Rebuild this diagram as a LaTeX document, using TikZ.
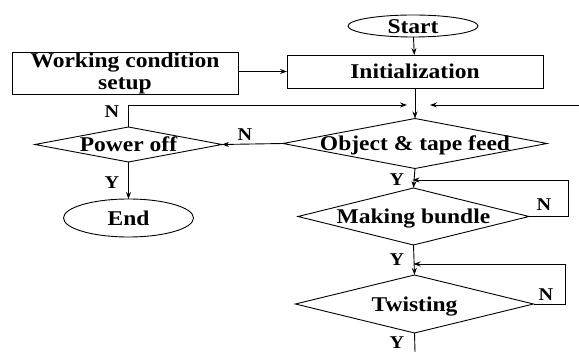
\documentclass[tikz,border=0pt]{standalone}
\usepackage{fontspec}
\setmainfont{Liberation Serif}[FakeStretch=1.12]
\usetikzlibrary{shapes.geometric,arrows.meta}

% text centred on the node centre without widening the shape
\newcommand{\ctrtext}[1]{\makebox[0pt]{\smash{\raisebox{-0.34em}{#1}}}}

\tikzset{
  every node/.style={inner sep=0pt, outer sep=0pt},
  base/.style={draw, line width=0.9pt, font=\fontsize{21}{22}\selectfont\bfseries},
  proc/.style={base, rectangle, align=center},
  term/.style={base, ellipse},
  decide/.style={base, diamond},
  lbl/.style={font=\fontsize{18}{19}\selectfont\bfseries},
  flow/.style={line width=0.9pt, -{Stealth[length=7pt,width=5pt]}},
  plain/.style={line width=0.9pt}
}

\begin{document}
\begin{tikzpicture}[x=1pt, y=-1pt]
  \useasboundingbox (0,0) rectangle (579,352);

  % shapes
  \node[term, minimum width=130, minimum height=22] (start) at (413,26) {\ctrtext{Start}};
  \node[proc, minimum width=256, minimum height=33] (init) at (415,71.5) {\ctrtext{Initialization}};
  \node[proc, minimum width=226, minimum height=42] (setup) at (125,73) {Working condition\\setup};
  \node[decide, minimum width=264, minimum height=50] (feed) at (415,143.5) {\ctrtext{Object \& tape feed}};
  \node[decide, minimum width=187, minimum height=35] (power) at (128.5,144.5) {\ctrtext{Power off}};
  \node[term, minimum width=130, minimum height=38] (end) at (128.5,218) {\ctrtext{End}};
  \node[decide, minimum width=231, minimum height=57] (bundle) at (413.5,216.5) {\ctrtext{Making bundle}};
  \node[decide, minimum width=238, minimum height=58] (twist) at (414.5,304) {\ctrtext{Twisting}};

  % helper points
  \coordinate (j) at (415,105);
  \coordinate (east) at (579,105);
  \coordinate (bottom) at (415,352);
  \coordinate (lb) at (568,180);
  \coordinate (lt) at (565,264);

  % main flow
  \draw[flow] (start) -- (init);
  \draw[flow] (setup.east |- init.west) -- (init.west);
  \draw[flow] (init.south) -- (feed.north);
  \draw[flow] (feed.west) -- (power.east);
  \draw[flow] (power.south) -- (end.north);
  \draw[flow] (feed.south) -- (bundle.north);
  \draw[flow] (bundle.south) -- (twist.north);
  \draw[plain] (twist.south) -- (bottom);

  % return paths
  \draw[flow, shorten >=8pt] (power.north) |- (j);
  \draw[flow, shorten >=15pt] (east) -- (j);
  \draw[flow, shorten >=-1pt] (bundle.east) -| (lb) -- (lb -| bundle.north);
  \draw[flow, shorten >=-1pt] (twist.east) -| (lt) -- (lt -| twist.north);

  % branch labels
  \node[lbl] (n1) at (112,112) {N};
  \node[lbl] (n2) at (245,135) {N};
  \node[lbl] (y1) at (112,183) {Y};
  \node[lbl] (y2) at (397,180) {Y};
  \node[lbl] (n3) at (544,205) {N};
  \node[lbl] (y3) at (397,260) {Y};
  \node[lbl] (n4) at (546,295) {N};
  \node[lbl] (y4) at (397,343) {Y};
\end{tikzpicture}
\end{document}
